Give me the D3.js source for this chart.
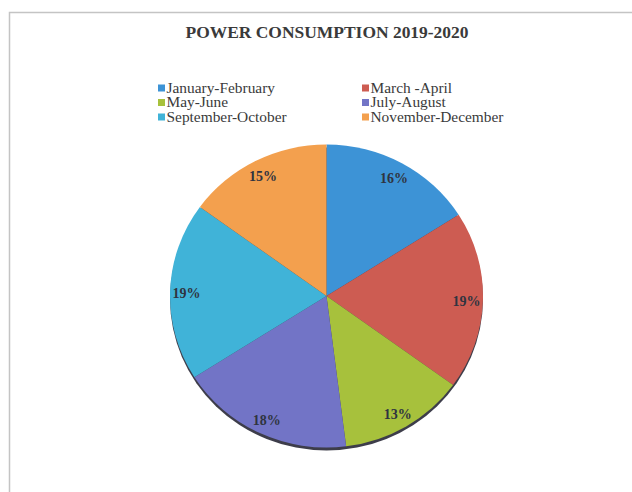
<!DOCTYPE html>
<html>
<head>
<meta charset="utf-8">
<script src="https://cdn.jsdelivr.net/npm/d3@7"></script>
<style>
  html, body { margin: 0; padding: 0; background: #fff; }
  svg { display: block; }
</style>
</head>
<body>
<svg id="chart" width="632" height="492"></svg>
<script>
const categories = ["January-February", "March -April", "May-June", "July-August", "September-October", "November-December"];
const values = [16, 19, 13, 18, 19, 15];
const labels = ["16%", "19%", "13%", "18%", "19%", "15%"];
const colors = ["#3d93d6", "#cd5c52", "#a7c13c", "#7274c6", "#40b3d8", "#f3a04e"];
const title = "POWER CONSUMPTION 2019-2020";

const svg = d3.select("#chart");
const W = 632, H = 492;

// frame
svg.append("path")
  .attr("d", `M9.5,${H} L9.5,12.5 L${W},12.5`)
  .attr("fill", "none").attr("stroke", "#c4c4c4").attr("stroke-width", 1.5);

// title
svg.append("text")
  .attr("x", 327).attr("y", 38)
  .attr("text-anchor", "middle")
  .attr("font-family", "'Liberation Serif', 'Times New Roman', serif")
  .attr("font-weight", "bold")
  .attr("font-size", 16)
  .attr("fill", "#3a3a3a")
  .attr("textLength", 283).attr("lengthAdjust", "spacingAndGlyphs")
  .text(title);

// legend
const legCols = [158, 362];
const legRows = [88, 102.5, 117];
const legend = svg.append("g");
categories.forEach((c, i) => {
  const col = i % 2, row = Math.floor(i / 2);
  const g = legend.append("g").attr("transform", `translate(${legCols[col]},${legRows[row]})`);
  g.append("rect").attr("x", 0).attr("y", -3.5).attr("width", 7).attr("height", 7).attr("fill", colors[i]);
  g.append("text").attr("transform", "translate(8.5,4.5) scale(1.1,1)")
    .attr("font-family", "'Liberation Serif', 'Times New Roman', serif")
    .attr("font-size", 14)
    .attr("fill", "#3a3a3a")
    .text(c);
});

// pie
const cx = 326.5, cy = 296, r = 151.5, sx = 1.033;
const pieG = svg.append("g").attr("transform", `translate(${cx},${cy}) scale(${sx},1)`);

// 3D-ish shadow rim
pieG.append("circle").attr("cx", 0).attr("cy", 3).attr("r", r).attr("fill", "#3d3d4a");

const pie = d3.pie().sort(null).value(d => d)(values);
const arc = d3.arc().innerRadius(0).outerRadius(r);
const labelArc = d3.arc().innerRadius(r * 0.895).outerRadius(r * 0.895);

pieG.selectAll("path.slice").data(pie).enter().append("path")
  .attr("class", "slice")
  .attr("d", arc)
  .attr("fill", (d, i) => colors[i]);

svg.append("g").selectAll("text").data(pie).enter().append("text")
  .attr("x", d => cx + labelArc.centroid(d)[0] * sx)
  .attr("y", d => cy + labelArc.centroid(d)[1] + 6)
  .attr("text-anchor", "middle")
  .attr("font-family", "'Liberation Serif', 'Times New Roman', serif")
  .attr("font-weight", "bold")
  .attr("font-size", 14)
  .attr("fill", "#2f3440")
  .text((d, i) => labels[i]);
</script>
</body>
</html>
